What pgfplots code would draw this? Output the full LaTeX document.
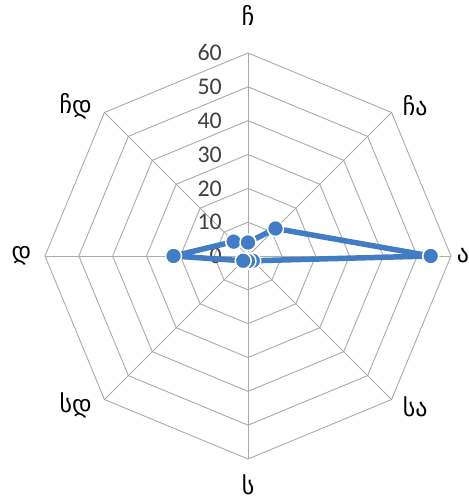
\documentclass[border=0pt]{standalone}
\usepackage{fontspec}
\setmainfont{Carlito}
\newfontfamily\geo{DejaVu Sans}
\usepackage{pgfplots}
\pgfplotsset{compat=1.18}
\usepgfplotslibrary{polar}
\definecolor{ser}{RGB}{66,124,196}
\definecolor{grd}{RGB}{170,170,170}
\begin{document}
\begin{tikzpicture}
\begin{polaraxis}[
  width=406bp, height=406bp, scale only axis,
  ymin=0, ymax=60, hide axis, clip=false,
  every axis plot/.append style={line join=round},
]
% grid rings
\foreach \r in {10,20,30,40,50,60}{
  \edef\tmp{\noexpand\addplot[grd, line width=0.9bp, no marks, sharp plot] coordinates {(0,\r)(45,\r)(90,\r)(135,\r)(180,\r)(225,\r)(270,\r)(315,\r)(360,\r)};}
  \tmp
}
% spokes
\addplot[grd, line width=0.9bp, no marks] coordinates {(0,60)(180,60)};
\addplot[grd, line width=0.9bp, no marks] coordinates {(45,60)(225,60)};
\addplot[grd, line width=0.9bp, no marks] coordinates {(90,60)(270,60)};
\addplot[grd, line width=0.9bp, no marks] coordinates {(135,60)(315,60)};
% tick labels
\foreach \r in {0,10,20,30,40,50,60}{
  \edef\tmp{\noexpand\node[anchor=east, font=\noexpand\fontsize{24}{24}\noexpand\selectfont, text=black!75, inner sep=0pt, xshift=-26bp] at (axis cs:90,\r) {\r};}
  \tmp
}
% category labels
\begin{scope}[font=\geo\fontsize{24}{24}\selectfont, inner sep=0pt]
\node at (axis cs:90,71) {ჩ};
\node at (axis cs:42,66.5) {ჩა};
\node at (axis cs:0,63.5) {ა};
\node at (axis cs:-42,66.5) {სა};
\node at (axis cs:-90,67.5) {ს};
\node at (axis cs:-139,67.5) {სდ};
\node at (axis cs:180,67) {დ};
\node at (axis cs:139,67.5) {ჩდ};
\end{scope}
% data
\addplot[ser, line width=5.5bp, mark=*, mark size=8bp,
  mark options={fill=ser, draw=white, line width=1.5bp}]
  coordinates {(90,4)(45,11.5)(0,54)(-45,2)(-90,1.5)(-135,2)(-180,22)(-225,6)(-270,4)};
\coordinate (c) at (axis cs:0,0);
\end{polaraxis}
\pgfresetboundingbox
\path[use as bounding box] ([shift={(-248bp,-247bp)}]c) rectangle ([shift={(221bp,256bp)}]c);
\end{tikzpicture}
\end{document}
